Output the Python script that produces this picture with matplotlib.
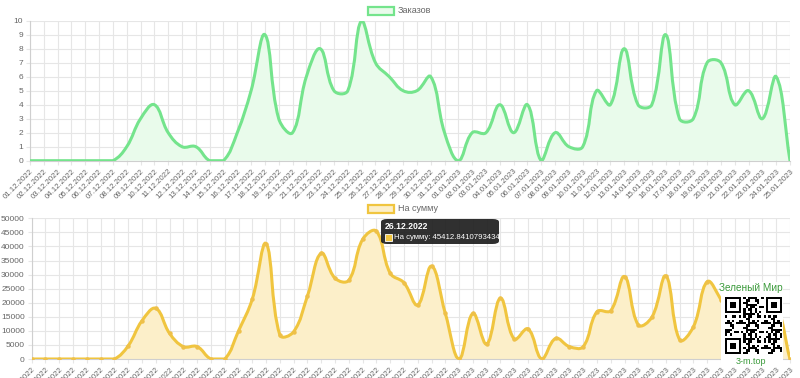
import numpy as np
import matplotlib
matplotlib.use('Agg')
import matplotlib.pyplot as plt
from matplotlib.path import Path
from matplotlib.patches import PathPatch, Rectangle, FancyBboxPatch
import datetime as dt

# data
start = dt.date(2022, 12, 1)
dates = [(start + dt.timedelta(days=i)).strftime('%d.%m.%Y') for i in range(56)]

orders = [0, 0, 0, 0, 0, 0, 0, 1, 3, 4, 2, 1, 1, 0, 0, 2, 5, 9, 3, 2,
          6, 8, 5, 5, 10, 7, 6, 5, 5, 6, 2, 0, 2, 2, 4, 2, 4, 0, 2, 1,
          1, 5, 4, 8, 4, 4, 9, 3, 3, 7, 7, 4, 5, 3, 6, 0]

sums = [0, 0, 0, 0, 0, 0, 0, 4700, 13600, 18000, 9100, 4400, 4400, 0, 0,
        10000, 21300, 41000, 8500, 9700, 22400, 37600, 28700, 28000, 42500,
        45412.8410793434, 30500, 27100, 19200, 33000, 16200, 0, 16200, 5300,
        21600, 7100, 10700, 0, 7300, 4400, 4400, 16800, 17200, 29300, 12100,
        15000, 29500, 6800, 11500, 27500, 21000, 12000, 16000, 10000, 18000, 0]

GRID = '#e6e6e6'
TXT = '#666666'
plt.rcParams['font.family'] = ['Liberation Sans', 'DejaVu Sans']


def spline(ax, x, y, ymax, color, fill, lw=2.2, tension=0.4):
    # chart.js style bezier, computed in pixel units
    bb = ax.get_window_extent()
    sx = bb.width / (x[-1] - x[0])
    sy = bb.height / ymax
    X = np.asarray(x, float) * sx
    Y = np.asarray(y, float) * sy
    n = len(X)
    cpp = np.zeros((n, 2))
    cpn = np.zeros((n, 2))
    for i in range(n):
        p = max(i - 1, 0)
        q = min(i + 1, n - 1)
        d01 = np.hypot(X[i] - X[p], Y[i] - Y[p])
        d12 = np.hypot(X[q] - X[i], Y[q] - Y[i])
        tot = d01 + d12
        s01 = d01 / tot if tot else 0
        s12 = d12 / tot if tot else 0
        fa, fb = tension * s01, tension * s12
        cpp[i] = X[i] - fa * (X[q] - X[p]), Y[i] - fa * (Y[q] - Y[p])
        cpn[i] = X[i] + fb * (X[q] - X[p]), Y[i] + fb * (Y[q] - Y[p])
    cpp[:, 1] = np.clip(cpp[:, 1], 0, ymax * sy)
    cpn[:, 1] = np.clip(cpn[:, 1], 0, ymax * sy)
    verts = [(X[0], Y[0])]
    codes = [Path.MOVETO]
    for i in range(n - 1):
        verts += [tuple(cpn[i]), tuple(cpp[i + 1]), (X[i + 1], Y[i + 1])]
        codes += [Path.CURVE4] * 3
    verts = [(vx / sx, vy / sy) for vx, vy in verts]
    fv = verts + [(x[-1], 0), (x[0], 0), verts[0]]
    fc = codes + [Path.LINETO, Path.LINETO, Path.CLOSEPOLY]
    ax.add_patch(PathPatch(Path(fv, fc), facecolor=fill, edgecolor='none', zorder=2))
    ax.add_patch(PathPatch(Path(verts, codes), facecolor='none', edgecolor=color,
                           lw=lw, zorder=3, capstyle='round', joinstyle='round'))


def style(ax, ymax, step, fmt):
    ax.set_xlim(0, 55)
    ax.set_ylim(0, ymax)
    ax.set_xticks(range(56))
    ax.set_xticklabels(dates, rotation=45, ha='right', rotation_mode='anchor',
                       fontsize=5.6, color=TXT)
    ax.set_yticks(np.arange(0, ymax + 1, step))
    ax.set_yticklabels([fmt(v) for v in np.arange(0, ymax + 1, step)], fontsize=6, color=TXT)
    ax.grid(True, color=GRID, lw=0.8, zorder=0)
    ax.tick_params(length=3, width=0.8, color=GRID, pad=2)
    for s in ['top', 'right']:
        ax.spines[s].set_visible(False)
    for s in ['left', 'bottom']:
        ax.spines[s].set_color('#cfcfcf')
        ax.spines[s].set_linewidth(0.8)
    ax.set_axisbelow(True)


fig = plt.figure(figsize=(8, 3.78), dpi=100)
W, H = 800, 378
ax1 = fig.add_axes([30 / W, 1 - 160.7 / H, 760 / W, 140 / H])
ax2 = fig.add_axes([31.7 / W, 1 - 359 / H, 758.3 / W, 140.7 / H])

style(ax1, 10, 1, lambda v: '%d' % v)
style(ax2, 50000, 5000, lambda v: '%d' % v)

x = np.arange(56)
spline(ax1, x, orders, 10, '#74e48c', '#e9fbeb')
spline(ax2, x, sums, 50000, '#f0c53f', '#fcefc9')
ax2.plot(x, sums, 'o', ms=2.2, color='#eec04a', zorder=4)

# legends
def legend(yc, label, ec, fc):
    fig.patches.append(Rectangle((368 / W, 1 - (yc + 4) / H), 26 / W, 8 / H,
                                 transform=fig.transFigure, ec=ec, fc=fc, lw=1.6))
    fig.text(398 / W, 1 - yc / H, label, fontsize=6.5, color=TXT, va='center')

legend(10.5, 'Заказов', '#74e48c', '#e9fbeb')
legend(208.5, 'На сумму', '#f0c53f', '#fcefc9')

# tooltip
tip = FancyBboxPatch((381 / W, 1 - 244 / H), 118 / W, 25 / H,
                     boxstyle='round,pad=0,rounding_size=0.008',
                     transform=fig.transFigure, fc='#1e1e1e', ec='none', alpha=0.92, zorder=10)
fig.patches.append(tip)
fig.text(385 / W, 1 - 226.5 / H, dates[25], fontsize=6.2, color='white',
         fontweight='bold', va='center', zorder=11)
fig.patches.append(Rectangle((385 / W, 1 - 241 / H), 7 / W, 7 / H, transform=fig.transFigure,
                             fc='#f0c53f', ec='white', lw=0.6, zorder=11))
fig.text(394 / W, 1 - 237.5 / H, 'На сумму: 45412.8410793434', fontsize=5.6,
         color='white', va='center', zorder=11)

# watermark
fig.patches.append(Rectangle((721 / W, 1 - 367 / H), 62 / W, 85 / H,
                             transform=fig.transFigure, fc='white', ec='none', zorder=12))
fig.text(751 / W, 1 - 288 / H, 'Зеленый Мир', fontsize=7.2, color='#3a9a3a',
         ha='center', va='center', zorder=13)
fig.text(751 / W, 1 - 361.5 / H, '3-m.top', fontsize=6.5, color='#3a9a3a',
         ha='center', va='center', zorder=13)
qa = fig.add_axes([725 / W, 1 - 354 / H, 57 / W, 57 / H], zorder=14)
n = 25
ii, jj = np.meshgrid(range(n), range(n))
qr = ((ii * ii * 3 + jj * jj * 5 + ii * jj * 7 + ii) % 11 < 5).astype(float)
for (r, c) in [(0, 0), (0, n - 7), (n - 7, 0)]:
    qr[max(r - 1, 0):r + 8, max(c - 1, 0):c + 8] = 0
    qr[r:r + 7, c:c + 7] = 1
    qr[r + 1:r + 6, c + 1:c + 6] = 0
    qr[r + 2:r + 5, c + 2:c + 5] = 1
qa.imshow(1 - qr, cmap='gray', interpolation='nearest', vmin=0, vmax=1)
qa.axis('off')

fig.savefig('out.png', dpi=100)
